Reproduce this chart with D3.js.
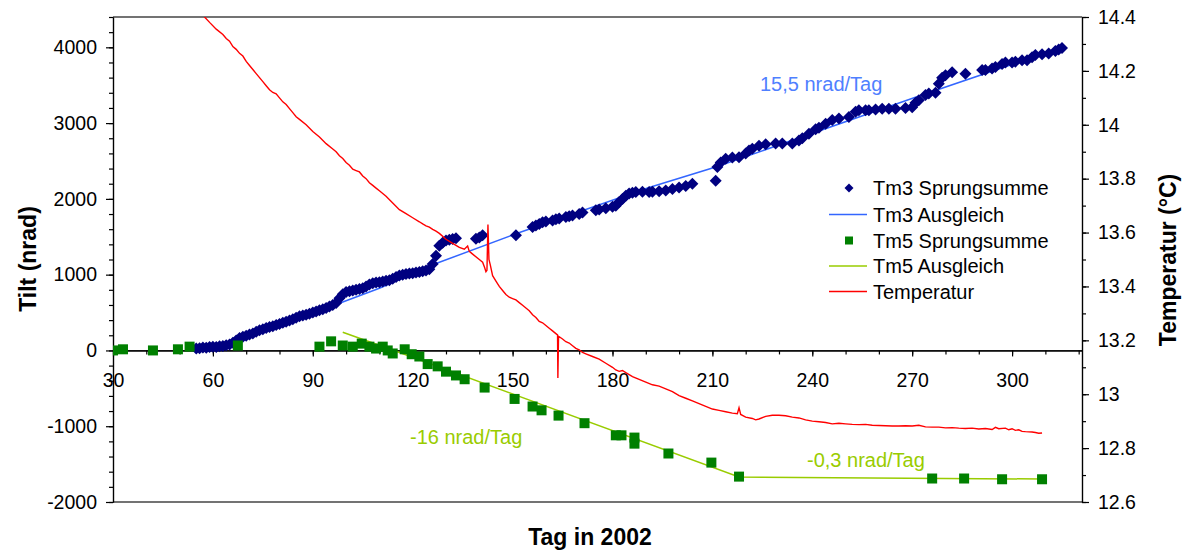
<!DOCTYPE html>
<html>
<head>
<meta charset="utf-8">
<script src="https://cdn.jsdelivr.net/npm/d3@7"></script>
<style>
  body { margin: 0; background: #fff; }
  svg { font-family: "Liberation Sans", Arial, sans-serif; }
</style>
</head>
<body>
<script>
// Tm3 Sprungsumme (Tag, nrad)
let tm3Days = [55, 56, 57, 58, 59, 60, 61, 62, 63, 64, 65, 66, 67, 68, 69, 70, 71, 72, 73, 74, 75, 76, 77, 78, 79, 80,
    81, 82, 83, 84, 85, 86, 87, 88, 89, 90, 91, 92, 93, 94, 95, 96, 97, 98, 99, 100, 101, 102, 103, 104, 105, 106,
    107, 108, 109, 110, 111, 112, 113, 114, 115, 116, 117, 118, 119, 120, 121, 122, 123, 124, 125, 126, 127, 128,
    129, 130, 131, 132, 133, 139, 140, 141, 151, 156, 157, 158, 159, 160, 162, 163, 164, 166, 167, 168, 170, 171,
    175, 176, 178, 180, 181, 182, 183, 184, 185, 186, 187, 189, 191, 192, 194, 196, 198, 200, 202, 204, 211, 211.5,
    212.5, 214, 216, 218, 220, 221, 222, 224, 226, 229, 231, 234, 236, 237, 239, 241, 242, 244, 246, 248, 251, 253,
    254, 256, 257, 259, 261, 263, 265, 268, 270, 271, 272, 274, 275, 277, 278, 279, 280, 282, 286, 291, 292, 294,
    295, 297, 298, 300, 301, 303, 304.5, 306, 307, 309, 311, 313, 314, 315];
let tm3Vals = [25, 30, 40, 35, 45, 50, 45, 55, 60, 70, 80, 100, 130, 165, 180, 195, 210, 225, 245, 265, 280, 295, 310,
    320, 335, 350, 365, 380, 395, 410, 430, 450, 460, 470, 485, 500, 515, 530, 545, 560, 580, 600, 625, 690, 740, 770,
    780, 790, 800, 810, 820, 845, 870, 885, 895, 900, 910, 920, 925, 945, 970, 990, 1000, 1010, 1015, 1020, 1030,
    1035, 1045, 1055, 1070, 1140, 1250, 1380, 1420, 1450, 1460, 1470, 1480, 1475, 1490, 1520, 1520, 1630, 1650,
    1670, 1690, 1700, 1715, 1730, 1740, 1760, 1770, 1780, 1800, 1820, 1850, 1860, 1875, 1895, 1910, 1960, 2000,
    2040, 2070, 2080, 2090, 2095, 2090, 2095, 2100, 2110, 2130, 2150, 2170, 2200, 2240, 2420, 2480, 2530, 2545,
    2550, 2600, 2640, 2660, 2700, 2720, 2730, 2730, 2730, 2770, 2800, 2860, 2920, 2940, 2990, 3040, 3060, 3080,
    3150, 3170, 3170, 3170, 3180, 3190, 3190, 3190, 3200, 3210, 3270, 3300, 3370, 3390, 3400, 3520, 3600, 3630,
    3670, 3650, 3700, 3700, 3720, 3740, 3780, 3800, 3800, 3810, 3830, 3830, 3870, 3900, 3910, 3920, 3950, 3970, 3990];

// Tm3 Ausgleich
let fit3Days = [57, 62, 70, 90, 110, 126, 151, 191, 211, 271, 315];
let fit3Vals = [0, 40, 170, 490, 820, 1130, 1540, 2150, 2420, 3340, 4000];

// Tm5 Sprungsumme
let tm5Days = [30, 33, 42, 49.5, 53, 67.5, 92, 95.5, 99, 102, 104.7, 107, 109, 111, 112.5, 114, 117.6, 119.7, 122,
    124.5, 127.5, 130, 133, 135.6, 141.6, 150.6, 156, 158.7, 163.8, 171.6, 181, 182.7, 186.6, 186.6, 196.8, 209.7,
    218, 276, 285.6, 297, 309];
let tm5Vals = [0, 15, 0, 15, 50, 65, 50, 120, 65, 50, 90, 50, 25, 50, 0, -40, 15, -50, -80, -180, -210, -280, -330,
    -380, -490, -640, -740, -790, -860, -960, -1120, -1120, -1150, -1230, -1360, -1480, -1665, -1690, -1690, -1700,
    -1700];

// Tm5 Ausgleich
let fit5Days = [99, 120, 218, 309];
let fit5Vals = [240, -90, -1670, -1697];

// Temperatur (°C)
let tempDays = [56.5, 57.5, 59, 61, 63, 64, 65, 66, 67, 68, 69, 70, 71, 72, 73, 74, 75, 76, 77, 78, 79, 80, 81, 82,
    83, 84, 85, 86, 88, 90, 92, 94, 96, 97, 98, 99, 100, 101, 102, 103, 104, 105, 106, 107, 108, 109, 110, 112, 114,
    116, 118, 120, 122, 123, 124, 125, 126, 127, 128, 130, 132, 134, 135.5, 136.5, 137, 138, 140, 141, 141.6, 142,
    142.3, 142.6, 142.9, 143.3, 144, 145, 146, 147, 148, 149, 150, 151, 152, 153, 154, 155, 156, 157, 158, 159, 160,
    161, 162, 163, 163.5, 163.6, 163.8, 165, 166, 167, 168, 169, 170, 171, 172, 174, 176, 178, 180, 181, 182, 183,
    184, 186, 188, 190, 192, 194, 196, 198, 200, 202, 204, 206, 208, 210, 212, 214, 216, 217.5, 218, 218.5, 220, 222,
    223, 224, 226, 228, 230, 232, 234, 236, 238, 240, 242, 244, 246, 248, 250, 252, 254, 256, 258, 260, 262, 264,
    266, 268, 270, 272, 274, 276, 278, 280, 282, 284, 286, 288, 290, 292, 294, 295, 296, 298, 299, 300, 301, 302,
    303, 304, 306, 307, 308, 309];
let tempVals = [14.42, 14.40, 14.38, 14.355, 14.335, 14.32, 14.31, 14.29, 14.28, 14.265, 14.255, 14.235, 14.22,
    14.205, 14.19, 14.175, 14.16, 14.145, 14.13, 14.12, 14.115, 14.10, 14.085, 14.075, 14.06, 14.045, 14.03, 14.02,
    14.00, 13.975, 13.955, 13.93, 13.91, 13.90, 13.885, 13.875, 13.86, 13.85, 13.835, 13.83, 13.825, 13.81, 13.80,
    13.785, 13.775, 13.765, 13.755, 13.735, 13.71, 13.685, 13.67, 13.655, 13.64, 13.632, 13.625, 13.62, 13.612,
    13.605, 13.597, 13.575, 13.56, 13.545, 13.538, 13.55, 13.53, 13.52, 13.50, 13.49, 13.47, 13.455, 13.46, 13.63,
    13.50, 13.48, 13.44, 13.42, 13.40, 13.385, 13.37, 13.36, 13.355, 13.35, 13.34, 13.33, 13.32, 13.31, 13.295,
    13.285, 13.27, 13.265, 13.255, 13.245, 13.235, 13.225, 13.22, 13.06, 13.215, 13.205, 13.195, 13.19, 13.18, 13.17,
    13.165, 13.155, 13.15, 13.14, 13.13, 13.115, 13.10, 13.09, 13.085, 13.088, 13.08, 13.065, 13.055, 13.045, 13.035,
    13.03, 13.02, 13.01, 12.995, 12.985, 12.975, 12.965, 12.955, 12.945, 12.94, 12.935, 12.93, 12.928, 12.95, 12.925,
    12.915, 12.91, 12.905, 12.908, 12.918, 12.922, 12.922, 12.92, 12.915, 12.912, 12.905, 12.90, 12.898, 12.895,
    12.89, 12.892, 12.89, 12.888, 12.887, 12.888, 12.885, 12.884, 12.883, 12.882, 12.882, 12.883, 12.882, 12.885,
    12.879, 12.878, 12.878, 12.875, 12.876, 12.874, 12.873, 12.874, 12.871, 12.873, 12.869, 12.877, 12.872, 12.874,
    12.868, 12.872, 12.866, 12.868, 12.862, 12.861, 12.86, 12.858, 12.855, 12.856];

let xTicks = [30, 60, 90, 120, 150, 180, 210, 240, 270, 300];
let tiltTicks = [-2000, -1000, 0, 1000, 2000, 3000, 4000];
let tempTicks = [12.6, 12.8, 13, 13.2, 13.4, 13.6, 13.8, 14, 14.2, 14.4];
let legendNames = ["Tm3 Sprungsumme", "Tm3 Ausgleich", "Tm5 Sprungsumme", "Tm5 Ausgleich", "Temperatur"];

let width = 1189;
let height = 551;
let plotL = 113, plotR = 1082, plotT = 17, plotB = 502;

let navy = "#000080", blue = "#3366ff", green = "#008000", lime = "#99cc00", red = "#ff0000";

let svg = d3.select("body")
    .append("svg")
    .attr("width", width)
    .attr("height", height);

let scaleX = d3.scaleLinear().domain([30, 321]).range([plotL, plotR]);
let scaleY = d3.scaleLinear().domain([-2000, 4400]).range([plotB, plotT]);
let scaleT = d3.scaleLinear().domain([12.6, 14.4]).range([plotB, plotT]);

svg.append("clipPath").attr("id", "plot")
    .append("rect").attr("x", plotL).attr("y", plotT).attr("width", plotR - plotL).attr("height", plotB - plotT);

// рамка сверху и снизу
svg.append("line").attr("x1", plotL).attr("x2", plotR).attr("y1", plotT).attr("y2", plotT)
    .attr("stroke", "#444").attr("stroke-width", 1.5);
svg.append("line").attr("x1", plotL).attr("x2", plotR).attr("y1", plotB).attr("y2", plotB)
    .attr("stroke", "#444").attr("stroke-width", 1.5);

function styleAxis(g) {
    g.select(".domain").attr("stroke", "#000").attr("stroke-width", 1.2);
    g.selectAll(".tick line").attr("stroke", "#000").attr("stroke-width", 1.2);
    g.selectAll("text").attr("font-size", 19.5).attr("fill", "#000")
        .attr("font-family", "Liberation Sans, Arial, sans-serif");
}

// малые деления
svg.append("g").attr("transform", `translate(${plotL},0)`)
    .call(d3.axisLeft(scaleY).tickValues(d3.range(-2000, 4401, 200)).tickSize(4).tickFormat("").tickSizeOuter(0))
    .call(styleAxis);
svg.append("g").attr("transform", `translate(${plotR},0)`)
    .call(d3.axisRight(scaleT).tickValues(d3.range(0, 19).map(i => 12.6 + i * 0.1)).tickSize(4).tickFormat("").tickSizeOuter(0))
    .call(styleAxis);
svg.append("g").attr("transform", `translate(0,${scaleY(0)})`)
    .call(d3.axisBottom(scaleX).tickValues(d3.range(30, 321, 10)).tickSize(4).tickFormat("").tickSizeOuter(0))
    .call(styleAxis);

// основные оси
svg.append("g").attr("transform", `translate(${plotL},0)`)
    .call(d3.axisLeft(scaleY).tickValues(tiltTicks).tickSize(7).tickPadding(9).tickSizeOuter(0).tickFormat(d => String(d)))
    .call(styleAxis);
svg.append("g").attr("transform", `translate(${plotR},0)`)
    .call(d3.axisRight(scaleT).tickValues(tempTicks).tickSize(7).tickPadding(9).tickSizeOuter(0).tickFormat(d => String(d)))
    .call(styleAxis);
svg.append("g").attr("transform", `translate(0,${scaleY(0)})`)
    .call(d3.axisBottom(scaleX).tickValues(xTicks).tickSize(6).tickPadding(17).tickSizeOuter(0))
    .call(styleAxis);

let plot = svg.append("g").attr("clip-path", "url(#plot)");

let line = d3.line().x(d => scaleX(d[0])).y(d => scaleY(d[1]));
let lineT = d3.line().x(d => scaleX(d[0])).y(d => scaleT(d[1]));

let diamond = "M0,-6L6,0L0,6L-6,0Z";

plot.append("path").datum(d3.zip(fit3Days, fit3Vals))
    .attr("d", line).attr("fill", "none").attr("stroke", blue).attr("stroke-width", 1.5);
plot.selectAll(".tm3").data(d3.zip(tm3Days, tm3Vals)).enter().append("path")
    .attr("d", diamond).attr("fill", navy)
    .attr("transform", d => `translate(${scaleX(d[0])},${scaleY(d[1])})`);

plot.append("path").datum(d3.zip(fit5Days, fit5Vals))
    .attr("d", line).attr("fill", "none").attr("stroke", lime).attr("stroke-width", 1.5);
plot.selectAll(".tm5").data(d3.zip(tm5Days, tm5Vals)).enter().append("rect")
    .attr("x", d => scaleX(d[0]) - 5).attr("y", d => scaleY(d[1]) - 5)
    .attr("width", 10).attr("height", 10).attr("fill", green);

plot.append("path").datum(d3.zip(tempDays, tempVals))
    .attr("d", lineT).attr("fill", "none").attr("stroke", red).attr("stroke-width", 1.4);

// подписи
svg.append("text").attr("x", 760).attr("y", 91).attr("font-size", 20).attr("fill", "#4f80ff").text("15,5 nrad/Tag");
svg.append("text").attr("x", 410).attr("y", 444).attr("font-size", 20).attr("fill", lime).text("-16 nrad/Tag");
svg.append("text").attr("x", 807).attr("y", 467).attr("font-size", 20).attr("fill", lime).text("-0,3 nrad/Tag");

svg.append("text").attr("transform", "translate(36,259) rotate(-90)").attr("text-anchor", "middle")
    .attr("font-size", 23).attr("font-weight", "bold").text("Tilt (nrad)");
svg.append("text").attr("transform", "translate(1176,260) rotate(-90)").attr("text-anchor", "middle")
    .attr("font-size", 23).attr("font-weight", "bold").text("Temperatur (°C)");
svg.append("text").attr("x", 590).attr("y", 545).attr("text-anchor", "middle")
    .attr("font-size", 23).attr("font-weight", "bold").text("Tag in 2002");

// легенда
let legendY = [188, 214.5, 240.5, 266, 291.5];
let lg = svg.append("g");
legendNames.forEach((name, i) => {
    let y = legendY[i];
    if (i === 0) lg.append("path").attr("d", "M0,-4.5L4.5,0L0,4.5L-4.5,0Z").attr("fill", navy).attr("transform", `translate(849,${y})`);
    if (i === 2) lg.append("rect").attr("x", 845).attr("y", y - 4).attr("width", 8).attr("height", 8).attr("fill", green);
    if (i === 1 || i === 3 || i === 4) {
        lg.append("line").attr("x1", 829).attr("x2", 867).attr("y1", y).attr("y2", y)
            .attr("stroke", [null, blue, null, lime, red][i]).attr("stroke-width", 1.5);
    }
    lg.append("text").attr("x", 873).attr("y", y).attr("dy", "0.35em").attr("font-size", 20).text(name);
});
</script>
</body>
</html>
